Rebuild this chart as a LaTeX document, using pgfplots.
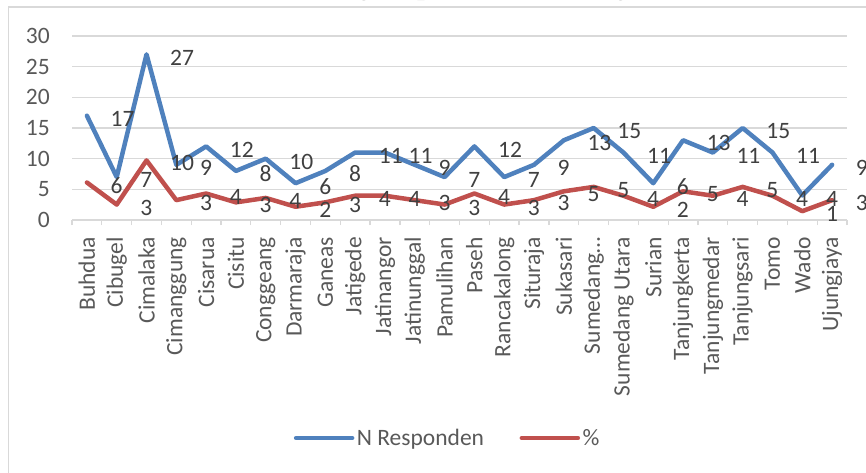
\documentclass[border=0pt]{standalone}
\usepackage{pgfplots}
\pgfplotsset{compat=1.18}
\usepackage{pgfplotstable}
\usepackage{fontspec}
\setmainfont{Carlito}
\newfontfamily\bodyserif{Liberation Serif}

\definecolor{nblue}{RGB}{79,129,189}
\definecolor{nred}{RGB}{192,80,77}
\definecolor{txtgray}{RGB}{89,89,89}
\definecolor{lblgray}{RGB}{64,64,64}
\definecolor{gridgray}{RGB}{217,217,217}

% idx, respondents, percent of 278, rounded percent
\pgfplotstableread{
idx n pct pr
0 17 6.115 6
1 7 2.518 3
2 27 9.712 10
3 9 3.237 3
4 12 4.317 4
5 8 2.878 3
6 10 3.597 4
7 6 2.158 2
8 8 2.878 3
9 11 3.957 4
10 11 3.957 4
11 9 3.237 3
12 7 2.518 3
13 12 4.317 4
14 7 2.518 3
15 9 3.237 3
16 13 4.676 5
17 15 5.396 5
18 11 3.957 4
19 6 2.158 2
20 13 4.676 5
21 11 3.957 4
22 15 5.396 5
23 11 3.957 4
24 4 1.439 1
25 9 3.237 3
}\resp

\newcommand{\chartfont}{\fontsize{23.5bp}{28bp}\selectfont}

\begin{document}
\begin{tikzpicture}
  \useasboundingbox (0,0) rectangle (866bp,473bp);
  \begin{scope}
    \clip (0,0) rectangle (866bp,473bp);
    % chart frame (only left and top edges fall inside the crop)
    \draw[gridgray, line width=1.3bp] (8.5bp,-20bp) |- (900bp,466bp);
    % body text of the page, mostly cut off
    \node[anchor=base east, inner sep=0pt, font=\bodyserif\fontsize{33bp}{38bp}\selectfont]
      at (373bp,479bp) {respondents across the districts in Sumedang};
    \node[anchor=base west, inner sep=0pt, font=\bodyserif\fontsize{33bp}{38bp}\selectfont]
      at (381bp,479bp) {as presented in Figure 4.};
  \end{scope}

  \begin{axis}[
      at={(72bp,253bp)}, anchor=south west,
      scale only axis, width=775bp, height=184bp,
      xmin=-0.5, xmax=25.5, ymin=0, ymax=30,
      clip=false,
      axis line style={draw=none},
      ytick={0,5,...,30},
      ymajorgrids,
      grid style={color=gridgray, line width=1.3bp},
      xtick={0,...,25},
      xticklabels={Buhdua,Cibugel,Cimalaka,Cimanggung,Cisarua,Cisitu,Conggeang,Darmaraja,Ganeas,Jatigede,Jatinangor,Jatinunggal,Pamulihan,Paseh,Rancakalong,Situraja,Sukasari,Sumedang…,Sumedang Utara,Surian,Tanjungkerta,Tanjungmedar,Tanjungsari,Tomo,Wado,Ujungjaya},
      major tick length=0pt,
      xtick pos=bottom, ytick pos=left,
      extra x ticks={-0.5,0.5,...,25.5},
      extra x tick labels={},
      extra x tick style={major tick length=5bp, tick align=outside, grid=none,
        tick style={color=gridgray, line width=1.3bp}},
      ticklabel style={font=\chartfont, text=txtgray},
      xticklabel style={rotate=90, anchor=east, inner sep=0pt},
      xticklabel shift=17bp,
      yticklabel style={anchor=east, inner sep=0pt},
      yticklabel shift=22bp,
      /pgf/number format/assume math mode=true,
      legend style={at={(0.485,-1.185)}, anchor=center, draw=none, fill=none,
        legend columns=2, font=\chartfont, text=txtgray, inner sep=0pt,
        nodes={inner sep=2.5bp},
        /tikz/every even column/.append style={column sep=33bp}},
      legend image code/.code={\draw[#1, line cap=round] (0bp,0bp) -- (56bp,0bp);},
    ]
    \addplot[nblue, line width=4.5bp, line join=round, line cap=round, mark=none]
      table[x=idx, y=n] {\resp};
    \addlegendentry{N Responden}
    \addplot[nred, line width=4.5bp, line join=round, line cap=round, mark=none]
      table[x=idx, y=pct] {\resp};
    \addlegendentry{\%}

    % data labels, one category to the right of their points as in the original
    \addplot[draw=none, mark=none, forget plot, nodes near coords,
      point meta=explicit symbolic,
      nodes near coords align={anchor=west},
      nodes near coords style={inner sep=0pt, xshift=-6.3bp, yshift=-3bp,
        font=\chartfont, text=lblgray}]
      table[x expr=\thisrow{idx}+1, y=n, meta=n] {\resp};
    \addplot[draw=none, mark=none, forget plot, nodes near coords,
      point meta=explicit symbolic,
      nodes near coords align={anchor=west},
      nodes near coords style={inner sep=0pt, xshift=-6.3bp, yshift=-3bp,
        font=\chartfont, text=lblgray}]
      table[x expr=\thisrow{idx}+1, y=pct, meta=pr] {\resp};
  \end{axis}
\end{tikzpicture}
\end{document}
